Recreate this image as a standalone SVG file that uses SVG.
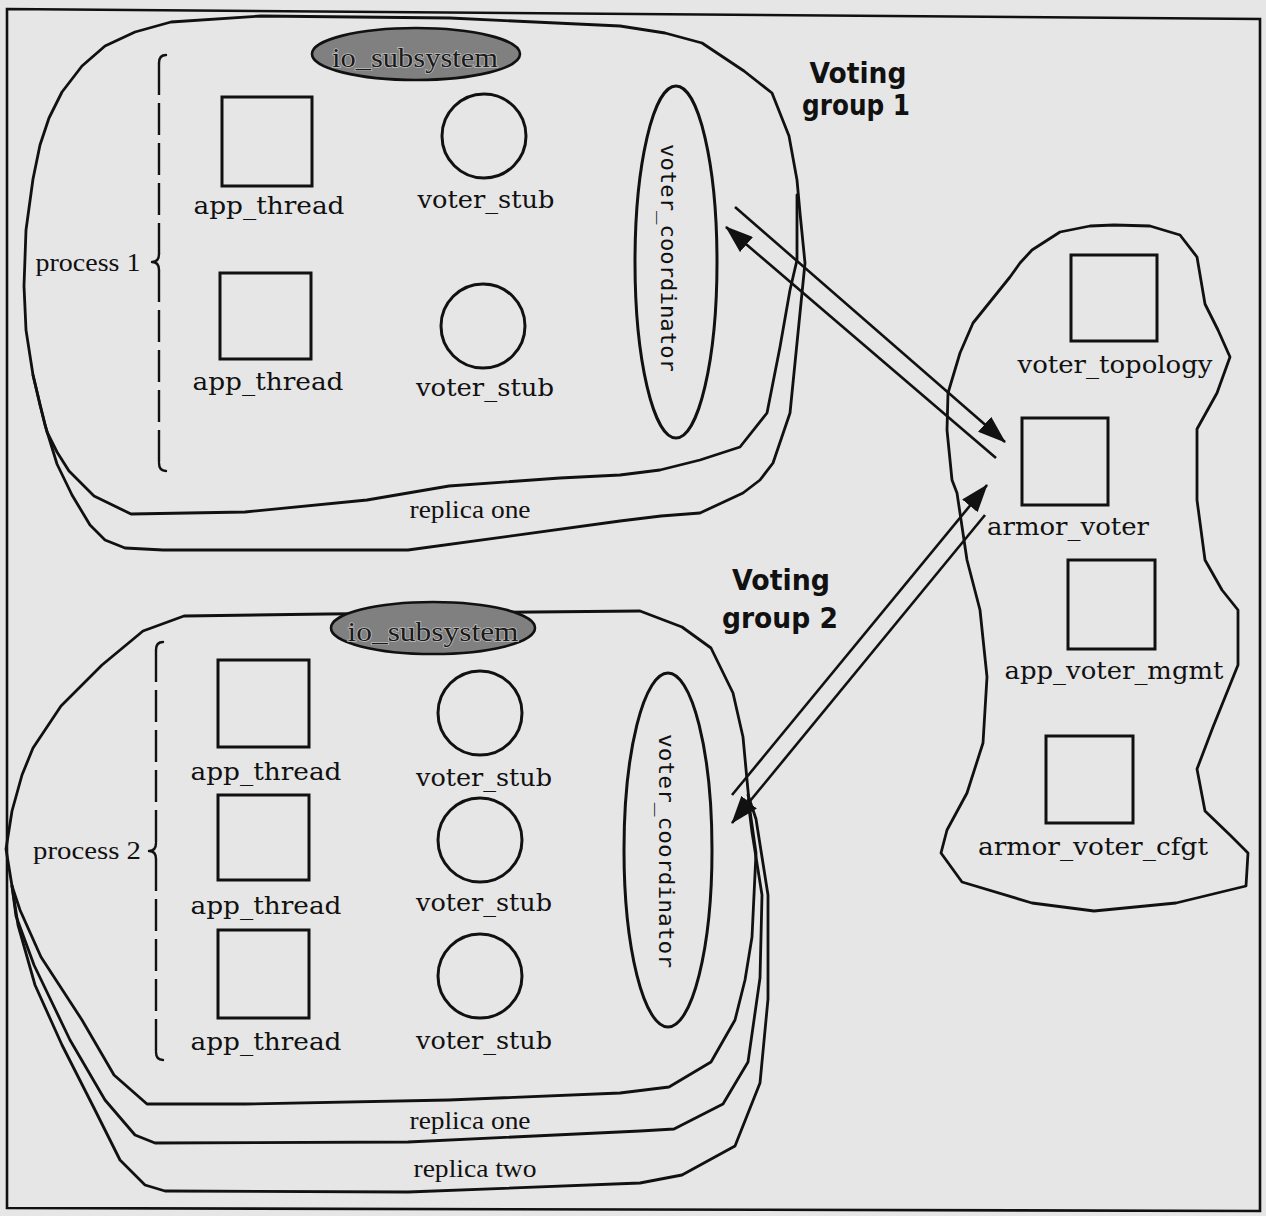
<svg xmlns="http://www.w3.org/2000/svg" width="1266" height="1216" viewBox="0 0 1266 1216">
<style>
.ln{fill:none;stroke:#111;stroke-width:2.8;stroke-linejoin:round;stroke-linecap:round}
.sh{fill:none;stroke:#111;stroke-width:3}
.io{fill:#808080;stroke:#111;stroke-width:2.6}
.lbl{font-family:"DejaVu Serif","Liberation Serif",serif;font-size:25px;fill:#111;text-anchor:middle}
.tim{font-family:"Liberation Serif","Times New Roman",serif;font-size:26px;fill:#111;text-anchor:middle}
.iot{font-family:"Liberation Serif","Times New Roman",serif;font-size:27px;fill:#1a1a1a;text-anchor:middle;stroke:#bdbdbd;stroke-width:1.5;paint-order:stroke}
.mono{font-family:"DejaVu Sans Mono","Liberation Mono",monospace;font-size:22px;fill:#111;text-anchor:middle}
.vg{font-family:"DejaVu Sans","Liberation Sans",sans-serif;font-weight:bold;font-size:29px;fill:#111;text-anchor:middle}
.dash{fill:none;stroke:#111;stroke-width:2.4;stroke-dasharray:32 8}
.arr{fill:none;stroke:#111;stroke-width:2.6;marker-end:url(#ah)}
</style>
<defs>
<marker id="ah" markerUnits="userSpaceOnUse" markerWidth="28" markerHeight="20" viewBox="0 0 28 20" refX="27" refY="10" orient="auto">
<path d="M0,0 L28,10 L0,20 Z" fill="#111"/>
</marker>
</defs>
<rect x="0" y="0" width="1266" height="1216" fill="#e6e6e6"/>
<path d="M7,9 L1260,19 L1260,1211 L7,1208 Z" fill="none" stroke="#111" stroke-width="2.6"/>

<g id="group1-outlines">
<path class="ln" d="M49,118 L62,92 L82,66 L105,46 L135,32 L171,22 L261,16 L450,18 L620,26 L665,33 L702,43 L744,71 L772,93 L789,136 L797,180 L800,213 L805,263 L800,313 L795,363 L790,413 L773,463 L760,480 L743,493 L700,513 L661,516 L620,521 L408,550 L163,550 L125,548 L105,540 L90,525 L72,495 L57,464 L45,425 L33,375 L26,330 L24,286 L26,230 L33,179 L40,145 Z"/>
<path class="ln" d="M33,375 L40,405 L47,432 L57,452 L69,471 L94,496 L131,514 L245,512 L367,500 L449,486 L560,478 L620,475 L660,470 L700,460 L740,447 L767,413 L780,347 L790,290 L797,260 L797,195"/>
</g>

<g id="group2-outlines">
<path class="ln" d="M6,849 L12,811 L22,775 L33,748 L61,706 L102,665 L143,631 L184,616 L327,614 L640,611 L682,627 L711,648 L733,693 L743,737 L747,780 L750,811 L756,853 L752,937 L745,980 L735,1020 L711,1062 L669,1087 L620,1093 L449,1100 L245,1104 L147,1104 L114,1075 L82,1020 L41,957 L20,910 L12,886 Z"/>
<path class="ln" d="M12,886 L16,916 L34,965 L70,1040 L105,1100 L135,1135 L155,1143 L408,1142 L640,1131 L674,1129 L723,1104 L748,1062 L760,978 L762,895 L752,832 L748,800"/>
<path class="ln" d="M12,886 L18,925 L35,985 L62,1045 L95,1110 L120,1160 L145,1185 L165,1191 L408,1192 L640,1183 L682,1175 L735,1146 L760,1083 L768,999 L768,895 L756,819 L748,795"/>
</g>

<g id="armor-outline">
<path class="ln" d="M1114,225 L1150,226 L1180,235 L1197,257 L1205,304 L1218,330 L1230,357 L1217,393 L1197,429 L1197,500 L1205,560 L1222,590 L1238,610 L1238,665 L1213,727 L1197,769 L1205,811 L1230,835 L1248,853 L1246,886 L1176,903 L1094,911 L1032,903 L962,882 L941,853 L947,830 L967,793 L983,743 L987,677 L980,610 L967,560 L957,493 L952,480 L947,430 L948,393 L960,353 L973,323 L1010,277 L1020,263 L1032,250 L1060,232 L1090,226 Z"/>
</g>

<g id="process1-brace">
<path class="ln" style="stroke-width:2.4" d="M166,55 Q159,55 159,63 M159,254 Q159,262 152,262 Q159,262 159,270 M159,463 Q159,471 166,471"/>
<path class="dash" d="M159,63 L159,254 M159,270 L159,463"/>
<text class="tim" x="88" y="271" textLength="105" lengthAdjust="spacingAndGlyphs">process 1</text>
</g>
<g id="process2-brace">
<path class="ln" style="stroke-width:2.4" d="M163,642 Q156,642 156,650 M156,843 Q156,851 149,851 Q156,851 156,859 M156,1052 Q156,1060 163,1060"/>
<path class="dash" d="M156,650 L156,843 M156,859 L156,1052"/>
<text class="tim" x="87" y="859" textLength="108" lengthAdjust="spacingAndGlyphs">process 2</text>
</g>

<g id="io_subsystem1"><ellipse class="io" cx="416" cy="54" rx="104" ry="26"/><text class="iot" x="415" y="67" textLength="166" lengthAdjust="spacingAndGlyphs">io_subsystem</text></g>
<g id="io_subsystem2"><ellipse class="io" cx="433" cy="628" rx="102" ry="26"/><text class="iot" x="433" y="641" textLength="171" lengthAdjust="spacingAndGlyphs">io_subsystem</text></g>

<g id="app_thread1"><rect class="sh" x="222" y="97" width="90" height="89"/><text class="lbl" x="269" y="214" textLength="151" lengthAdjust="spacingAndGlyphs">app_thread</text></g>
<g id="app_thread2"><rect class="sh" x="220" y="273" width="91" height="86"/><text class="lbl" x="268" y="390" textLength="151" lengthAdjust="spacingAndGlyphs">app_thread</text></g>
<g id="voter_stub1"><circle class="sh" cx="484" cy="136" r="42"/><text class="lbl" x="486" y="208" textLength="137" lengthAdjust="spacingAndGlyphs">voter_stub</text></g>
<g id="voter_stub2"><circle class="sh" cx="483" cy="326" r="42"/><text class="lbl" x="485" y="396" textLength="138" lengthAdjust="spacingAndGlyphs">voter_stub</text></g>
<g id="voter_coordinator1"><ellipse class="sh" cx="676" cy="262" rx="41" ry="176"/><text class="mono" transform="translate(661,258) rotate(90)" x="0" y="0" textLength="228" lengthAdjust="spacingAndGlyphs">voter_coordinator</text></g>

<g id="app_thread3"><rect class="sh" x="218" y="660" width="91" height="87"/><text class="lbl" x="266" y="780" textLength="151" lengthAdjust="spacingAndGlyphs">app_thread</text></g>
<g id="app_thread4"><rect class="sh" x="218" y="795" width="91" height="85"/><text class="lbl" x="266" y="914" textLength="151" lengthAdjust="spacingAndGlyphs">app_thread</text></g>
<g id="app_thread5"><rect class="sh" x="218" y="930" width="91" height="88"/><text class="lbl" x="266" y="1050" textLength="151" lengthAdjust="spacingAndGlyphs">app_thread</text></g>
<g id="voter_stub3"><circle class="sh" cx="480" cy="713" r="42"/><text class="lbl" x="484" y="786" textLength="136" lengthAdjust="spacingAndGlyphs">voter_stub</text></g>
<g id="voter_stub4"><circle class="sh" cx="480" cy="840" r="42"/><text class="lbl" x="484" y="911" textLength="136" lengthAdjust="spacingAndGlyphs">voter_stub</text></g>
<g id="voter_stub5"><circle class="sh" cx="480" cy="976" r="42"/><text class="lbl" x="484" y="1049" textLength="136" lengthAdjust="spacingAndGlyphs">voter_stub</text></g>
<g id="voter_coordinator2"><ellipse class="sh" cx="668" cy="850" rx="44" ry="177"/><text class="mono" transform="translate(659,851) rotate(90)" x="0" y="0" textLength="234" lengthAdjust="spacingAndGlyphs">voter_coordinator</text></g>

<g id="voter_topology"><rect class="sh" x="1071" y="255" width="86" height="86"/><text class="lbl" x="1115" y="373" textLength="195" lengthAdjust="spacingAndGlyphs">voter_topology</text></g>
<g id="armor_voter"><rect class="sh" x="1022" y="418" width="86" height="87"/><text class="lbl" x="1068" y="535" textLength="162" lengthAdjust="spacingAndGlyphs">armor_voter</text></g>
<g id="app_voter_mgmt"><rect class="sh" x="1068" y="560" width="87" height="89"/><text class="lbl" x="1114" y="679" textLength="219" lengthAdjust="spacingAndGlyphs">app_voter_mgmt</text></g>
<g id="armor_voter_cfgt"><rect class="sh" x="1046" y="736" width="87" height="87"/><text class="lbl" x="1093" y="855" textLength="230" lengthAdjust="spacingAndGlyphs">armor_voter_cfgt</text></g>

<g id="labels">
<text class="tim" x="470" y="518" textLength="121" lengthAdjust="spacingAndGlyphs">replica one</text>
<text class="tim" x="470" y="1129" textLength="121" lengthAdjust="spacingAndGlyphs">replica one</text>
<text class="tim" x="475" y="1177" textLength="123" lengthAdjust="spacingAndGlyphs">replica two</text>
<text class="vg" x="858" y="83" textLength="97" lengthAdjust="spacingAndGlyphs">Voting</text>
<text class="vg" x="856" y="115" textLength="108" lengthAdjust="spacingAndGlyphs">group 1</text>
<text class="vg" x="781" y="590" textLength="98" lengthAdjust="spacingAndGlyphs">Voting</text>
<text class="vg" x="780" y="628" textLength="116" lengthAdjust="spacingAndGlyphs">group 2</text>
</g>

<g id="connectors">
<line class="arr" x1="735" y1="207" x2="1005" y2="442"/>
<line class="arr" x1="996" y1="458" x2="726" y2="227"/>
<line class="arr" x1="732" y1="795" x2="987" y2="485"/>
<line class="arr" x1="985" y1="515" x2="732" y2="823"/>
</g>
</svg>
